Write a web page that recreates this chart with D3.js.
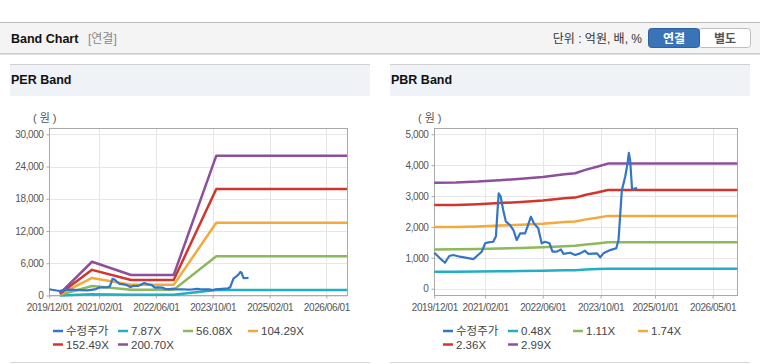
<!DOCTYPE html>
<html><head><meta charset="utf-8">
<script src="https://cdn.jsdelivr.net/npm/d3@7"></script>
<style>
body{margin:0;background:#fff;}
svg{display:block;font-family:"Liberation Sans",Arial,"Noto Sans CJK KR",sans-serif;}
</style>
</head><body>
<svg id="c" width="760" height="364"></svg>
<script>
// ---------- DATA ----------
const priceDates = ["2019-12-01","2020-01-18","2020-02-29","2020-04-05","2020-05-08","2020-07-04","2020-08-30","2020-10-25","2020-12-06","2021-01-04","2021-02-01","2021-03-01","2021-04-10","2021-05-03","2021-05-14","2021-05-26","2021-06-12","2021-07-03","2021-07-26","2021-08-30","2021-09-27","2021-10-25","2021-11-22","2022-01-03","2022-01-23","2022-02-21","2022-03-19","2022-04-24","2022-05-23","2022-06-21","2022-07-28","2022-08-22","2022-09-28","2022-11-01","2022-11-22","2023-01-18","2023-03-01","2023-04-12","2023-05-22","2023-06-20","2023-09-01","2023-09-28","2023-10-25","2023-12-21","2024-02-10","2024-02-29","2024-03-13","2024-03-28","2024-04-25","2024-05-15","2024-05-26","2024-06-06","2024-06-15","2024-06-22","2024-08-03"];
const priceValues = [1165,984,841,1058,1090,1036,1000,960,1100,1200,1470,1500,1520,1700,2385,3090,2980,2550,2170,2060,1900,1575,1790,1790,2000,2330,2115,1955,1470,1520,1470,1200,1200,1270,1130,1165,1090,1145,1230,1130,1145,1015,1145,1250,1310,1575,2330,3190,3625,4060,4400,4165,3625,3215,3270];

const perBandDates = ["2020-03-01","2020-12-01","2021-11-01","2022-11-01","2023-11-01","2026-11-25"];
const perBand787  = [16, 246, 150, 150, 1023, 1023];
const perBand5608 = [112, 1755, 1066, 1066, 7300, 7300];
const perBand10429= [209, 3264, 1982, 1982, 13530, 13530];
const perBand15249= [305, 4773, 2897, 2897, 19820, 19820];
const perBand20070= [401, 6282, 3813, 3813, 26030, 26030];
const perLabels = ["수정주가","7.87X","56.08X","104.29X","152.49X","200.70X"];

const pbrBandDates = ["2019-12-01","2020-06-01","2020-12-01","2021-06-01","2021-12-01","2022-06-01","2022-12-01","2023-03-01","2023-06-01","2023-09-01","2023-12-01","2026-11-25"];
const pbrBand048 = [551,552,557,564,571,581,595,600,619,634,650,650];
const pbrBand111 = [1273,1277,1288,1304,1321,1343,1376,1388,1432,1465,1504,1504];
const pbrBand174 = [1996,2001,2018,2045,2071,2105,2158,2175,2245,2297,2358,2358];
const pbrBand236 = [2707,2714,2738,2773,2808,2856,2926,2950,3044,3115,3198,3198];
const pbrBand299 = [3430,3439,3468,3513,3558,3618,3708,3738,3857,3947,4051,4051];
const pbrLabels = ["수정주가","0.48X","1.11X","1.74X","2.36X","2.99X"];

const perXTicks = ["2019-12-01","2021-02-01","2022-06-01","2023-10-01","2025-02-01","2026-06-01"];
const pbrXTicks = ["2019-12-01","2021-02-01","2022-06-01","2023-10-01","2025-01-01","2026-05-01"];
const perYTicks = [0,6000,12000,18000,24000,30000];
const pbrYTicks = [0,1000,2000,3000,4000,5000];

const seriesColors = ["#3375c6","#1fb0c6","#8db85b","#f4a93b","#d2352c","#8d4f9b"];

// ---------- DRAW ----------
const parse = d3.timeParse("%Y-%m-%d");
const fmtDate = d3.timeFormat("%Y/%m/%d");
const svg = d3.select("#c");

// top header
svg.append("rect").attr("x",0).attr("y",22).attr("width",760).attr("height",31).attr("fill","#f4f4f4");
svg.append("line").attr("x1",0).attr("x2",760).attr("y1",22.5).attr("y2",22.5).attr("stroke","#b8b8b8");
svg.append("line").attr("x1",0).attr("x2",760).attr("y1",53.5).attr("y2",53.5).attr("stroke","#c8c8c8");
svg.append("line").attr("x1",0).attr("x2",760).attr("y1",54.5).attr("y2",54.5).attr("stroke","#e4e4e4");
svg.append("text").attr("x",11).attr("y",43).attr("font-size",12.5).attr("font-weight","bold").attr("fill","#111").text("Band Chart");
svg.append("text").attr("x",88).attr("y",43).attr("font-size",12).attr("fill","#888").text("[연결]");
svg.append("text").attr("x",642).attr("y",43).attr("text-anchor","end").attr("font-size",12).attr("fill","#333").text("단위 : 억원, 배, %");
svg.append("rect").attr("x",699).attr("y",28.5).attr("width",51.5).attr("height",19).attr("rx",3).attr("fill","#fff").attr("stroke","#bdbdbd");
svg.append("rect").attr("x",648.5).attr("y",28.5).attr("width",51).attr("height",19).attr("rx",3).attr("fill","#3a74b8").attr("stroke","#2e609e");
svg.append("text").attr("x",674).attr("y",42.5).attr("text-anchor","middle").attr("font-size",12).attr("font-weight","bold").attr("fill","#fff").text("연결");
svg.append("text").attr("x",725).attr("y",42.5).attr("text-anchor","middle").attr("font-size",12).attr("font-weight","bold").attr("fill","#555").text("별도");

function panel(cfg){
  const g = svg.append("g");
  // panel header
  g.append("rect").attr("x",cfg.px).attr("y",64).attr("width",360).attr("height",32).attr("fill","#eff2f6");
  g.append("line").attr("x1",cfg.px).attr("x2",cfg.px+360).attr("y1",64.5).attr("y2",64.5).attr("stroke","#d0d0d0");
  g.append("line").attr("x1",cfg.px).attr("x2",cfg.px+360).attr("y1",362.5).attr("y2",362.5).attr("stroke","#d8d8d8");
  g.append("text").attr("x",cfg.px+1).attr("y",84).attr("font-size",12.5).attr("font-weight","bold").attr("fill","#111").text(cfg.title);

  const x = d3.scaleTime().domain([parse("2019-12-01"), parse("2026-11-25")]).range([cfg.x0, cfg.x1]);
  const y = d3.scaleLinear().domain([0, cfg.ymax]).range([cfg.y0, 134.3]);
  const top = 128.5, bottom = 295.5;

  // grid
  g.append("g").selectAll("line").data(cfg.yTicks).join("line")
    .attr("x1",cfg.x0).attr("x2",cfg.x1).attr("y1",d=>Math.round(y(d))+0.5).attr("y2",d=>Math.round(y(d))+0.5)
    .attr("stroke","#e6e6e6");
  g.append("g").selectAll("line").data(cfg.xTicks.slice(1)).join("line")
    .attr("x1",d=>Math.round(x(parse(d)))+0.5).attr("x2",d=>Math.round(x(parse(d)))+0.5).attr("y1",top).attr("y2",bottom)
    .attr("stroke","#e6e6e6");

  // axes
  const ya = g.append("g").attr("transform",`translate(${Math.round(cfg.x0)+0.5},0)`)
    .call(d3.axisLeft(y).tickValues(cfg.yTicks).tickFormat(d3.format(",")).tickSize(3).tickPadding(3));
  ya.select(".domain").remove();
  ya.selectAll("line").attr("stroke","#aaa");
  ya.selectAll("text").attr("font-size",10).attr("letter-spacing","-0.4px").attr("fill","#555").attr("font-family",null);
  const xa = g.append("g").attr("transform",`translate(0,${bottom})`)
    .call(d3.axisBottom(x).tickValues(cfg.xTicks.map(parse)).tickFormat(fmtDate).tickSize(3).tickPadding(5));
  xa.select(".domain").remove();
  xa.selectAll("line").attr("stroke","#aaa");
  xa.selectAll("text").attr("font-size",10).attr("letter-spacing","-0.4px").attr("fill","#555").attr("font-family",null);

  g.append("rect").attr("x",Math.round(cfg.x0)+0.5).attr("y",top).attr("width",Math.round(cfg.x1)-Math.round(cfg.x0)).attr("height",bottom-top)
    .attr("fill","none").attr("stroke","#aaa");

  g.append("text").attr("x",cfg.unitX).attr("y",122).attr("font-size",11).attr("letter-spacing","3px").attr("fill","#555").text("(원)");

  // lines
  const line = d3.line().x(d=>x(d[0])).y(d=>y(d[1]));
  const plot = g.append("g");
  cfg.bands.forEach((vals,i)=>{
    plot.append("path").datum(cfg.bandDates.map((d,j)=>[parse(d), vals[j]]))
      .attr("d",line).attr("fill","none").attr("stroke",seriesColors[i+1]).attr("stroke-width",2.5).attr("stroke-linejoin","round");
  });
  plot.append("path").datum(priceDates.map((d,j)=>[parse(d), priceValues[j]]))
    .attr("d",line).attr("fill","none").attr("stroke",seriesColors[0]).attr("stroke-width",2.2).attr("stroke-linejoin","round");

  // legend
  const lg = g.append("g");
  cfg.labels.forEach((lab,i)=>{
    const col = i % 4, row = Math.floor(i/4);
    const lx = cfg.legX + col*65, ly = 331 + row*13.5;
    lg.append("line").attr("x1",lx).attr("x2",lx+10).attr("y1",ly).attr("y2",ly).attr("stroke",seriesColors[i]).attr("stroke-width",2.5);
    lg.append("text").attr("x",lx+13).attr("y",ly+4).attr("font-size",11.5).attr("fill","#444").text(lab);
  });
}

panel({px:10, title:"PER Band", x0:49.3, x1:347, y0:295.5, ymax:30000, yTicks:perYTicks, xTicks:perXTicks,
  bandDates:perBandDates, bands:[perBand787,perBand5608,perBand10429,perBand15249,perBand20070], labels:perLabels, legX:53, unitX:33});
panel({px:390, title:"PBR Band", x0:434.3, x1:737.3, y0:288.7, ymax:5000, yTicks:pbrYTicks, xTicks:pbrXTicks,
  bandDates:pbrBandDates, bands:[pbrBand048,pbrBand111,pbrBand174,pbrBand236,pbrBand299], labels:pbrLabels, legX:443, unitX:418});
</script>
</body></html>
